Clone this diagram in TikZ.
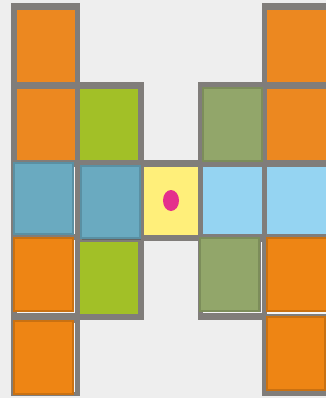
\documentclass[tikz,border=0pt]{standalone}
\begin{document}
\begin{tikzpicture}[x=0.1mm,y=-0.1mm,
  frame/.style={fill=frameGray},
  flat/.style={fill=#1},
  sticky/.style={fill=#1, draw=#1!85!black, line width=0.45pt},
  sheen/.style={draw=white!92!gray, line width=0.4pt}]
\definecolor{bgGray}{HTML}{EEEEEE}
\definecolor{frameGray}{HTML}{807D7A}
\definecolor{cOrange}{HTML}{EC8820}
\definecolor{cOrangeS}{HTML}{EE8514}
\definecolor{cGreen}{HTML}{A2C027}
\definecolor{cOlive}{HTML}{92A66A}
\definecolor{cBlue}{HTML}{6AAAC0}
\definecolor{cLight}{HTML}{95D4F2}
\definecolor{cYellow}{HTML}{FFEF7A}
\definecolor{cPink}{HTML}{E4308C}
\useasboundingbox (0,0) rectangle (326,398);
\fill[bgGray] (0,0) rectangle (326,398);
% gray frame
\fill[frame] (11,3) rectangle (80,396);
\fill[frame] (75,82) rectangle (144,320);
\fill[frame] (138,160) rectangle (203,241);
\fill[frame] (198,82) rectangle (267,320);
\fill[frame] (262,3) rectangle (330,396);
% column 1
\fill[flat=cOrange] (17,10) rectangle (75,82);
\fill[flat=cOrange] (17,89) rectangle (75,160);
\draw[sheen] (74,167) -- (74,234);
\draw[sticky=cBlue] (14,163) rectangle (73,234);
\draw[sheen] (17,312) -- (74,312) -- (74,240);
\draw[sticky=cOrangeS] (14,238) rectangle (73,311);
\draw[sheen] (74.5,323) -- (74.5,392);
\draw[sticky=cOrangeS] (14,321) rectangle (73,394);
% column 2
\fill[flat=cGreen] (80,89) rectangle (138,160);
\draw[sheen] (80.5,172) -- (80.5,236);
\fill[black,opacity=0.2] (82,167) rectangle (141,240);
\draw[sticky=cBlue] (81,166) rectangle (140,238);
\fill[flat=cGreen] (80,242) rectangle (138,314);
% middle
\fill[flat=cYellow] (144,167) rectangle (198,235);
\fill[cPink] (171,200.5) ellipse [x radius=8, y radius=10.5];
% column 4
\draw[sticky=cOlive] (203,88) rectangle (262,161);
\fill[flat=cLight] (203,167) rectangle (262,234);
\draw[sheen] (203,312.5) -- (261.5,312.5) -- (261.5,242);
\draw[sticky=cOlive] (200,238) rectangle (259,311);
% column 5
\fill[flat=cOrange] (267,10) rectangle (330,82);
\fill[flat=cOrange] (267,89) rectangle (330,160);
\fill[flat=cLight] (267,167) rectangle (330,234);
\draw[sheen] (267,313) -- (326,313);
\draw[sticky=cOrangeS] (267,238) rectangle (330,311);
\draw[sticky=cOrangeS] (267,317) rectangle (325,390);
\end{tikzpicture}
\end{document}
